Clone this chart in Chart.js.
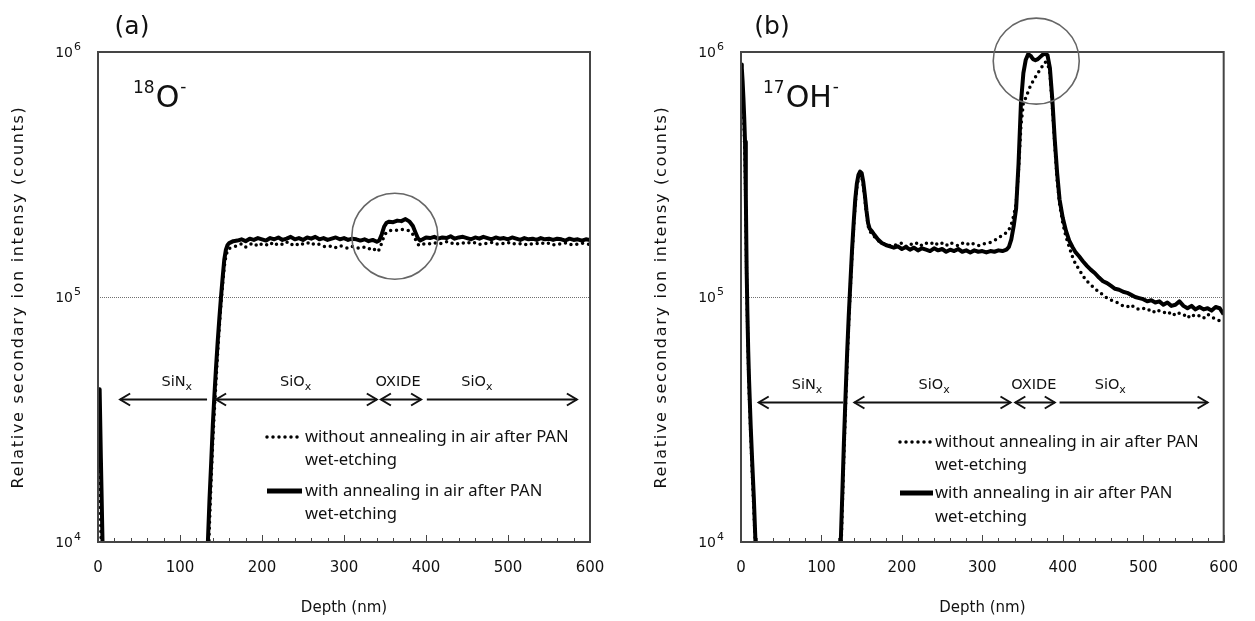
<!DOCTYPE html>
<html>
<head>
<meta charset="utf-8">
<script src="https://cdn.jsdelivr.net/npm/chart.js@4.4.0/dist/chart.umd.min.js"></script>
<style>
  html, body { margin: 0; padding: 0; background: #fff; }
  #wrap { position: relative; width: 1255px; height: 621px; overflow: hidden; }
  canvas { position: absolute; top: 0; }
  #chartA { left: 0; }
  #chartB { left: 643px; }
</style>
</head>
<body>
<div id="wrap">
  <canvas id="chartA" width="628" height="621"></canvas>
  <canvas id="chartB" width="612" height="621"></canvas>
</div>
<script>
// ---- (a) 18O- : profundidad (nm) y cuentas ----
var depthA = [0, 1, 2, 3.5, 5.5, 7, 9, 128, 131, 133, 134, 136, 138, 140, 142, 144, 146, 148, 150, 152, 154, 156, 158, 160,
  165, 170, 175, 180, 185, 190, 195, 200, 205, 210, 215, 220, 225, 230, 235, 240, 245, 250, 255, 260, 265, 270, 275, 280,
  285, 290, 295, 300, 305, 310, 315, 320, 325, 330, 335, 340,
  343, 346, 349, 352, 355, 360, 365, 370, 375, 380, 384, 387, 390, 393, 396,
  400, 405, 410, 415, 420, 425, 430, 435, 440, 445, 450, 455, 460, 465, 470, 475, 480, 485, 490, 495, 500,
  505, 510, 515, 520, 525, 530, 535, 540, 545, 550, 555, 560, 565, 570, 575, 580, 585, 590, 595, 600];
var withA = [4.0e4, 4.2e4, 4.2e4, 2.2e4, 1.0e4, 5e3, 1e3, 1e3, 4e3, 8e3, 1.0e4, 1.5e4, 2.1e4, 3.0e4, 4.0e4, 5.2e4, 6.6e4, 8.2e4, 1.0e5, 1.2e5, 1.42e5, 1.56e5, 1.63e5, 1.66e5,
  1.69e5, 1.70e5, 1.72e5, 1.69e5, 1.73e5, 1.71e5, 1.74e5, 1.72e5, 1.70e5, 1.74e5, 1.72e5, 1.75e5, 1.71e5, 1.73e5, 1.76e5, 1.72e5, 1.74e5, 1.71e5, 1.75e5, 1.73e5, 1.76e5, 1.72e5, 1.74e5, 1.71e5,
  1.73e5, 1.75e5, 1.72e5, 1.74e5, 1.71e5, 1.73e5, 1.72e5, 1.70e5, 1.72e5, 1.69e5, 1.71e5, 1.68e5,
  1.70e5, 1.80e5, 1.94e5, 2.01e5, 2.03e5, 2.02e5, 2.05e5, 2.04e5, 2.08e5, 2.03e5, 1.95e5, 1.84e5, 1.74e5, 1.70e5, 1.72e5,
  1.75e5, 1.74e5, 1.76e5, 1.73e5, 1.75e5, 1.74e5, 1.77e5, 1.73e5, 1.75e5, 1.76e5, 1.74e5, 1.72e5, 1.75e5, 1.73e5, 1.76e5, 1.74e5, 1.72e5, 1.75e5, 1.73e5, 1.74e5, 1.72e5,
  1.75e5, 1.73e5, 1.71e5, 1.74e5, 1.72e5, 1.73e5, 1.71e5, 1.74e5, 1.72e5, 1.73e5, 1.71e5, 1.73e5, 1.72e5, 1.70e5, 1.73e5, 1.71e5, 1.72e5, 1.70e5, 1.72e5, 1.71e5];
var withoutA = [2.0e4, 2.4e4, 2.1e4, 1.1e4, 6e3, 3e3, 1e3, 1e3, 3e3, 6e3, 7.5e3, 1.2e4, 1.8e4, 2.6e4, 3.5e4, 4.6e4, 6.0e4, 7.6e4, 9.4e4, 1.13e5, 1.33e5, 1.47e5, 1.55e5, 1.58e5,
  1.60e5, 1.62e5, 1.65e5, 1.60e5, 1.64e5, 1.66e5, 1.61e5, 1.65e5, 1.63e5, 1.67e5, 1.62e5, 1.66e5, 1.64e5, 1.68e5, 1.63e5, 1.66e5, 1.62e5, 1.65e5, 1.67e5, 1.63e5, 1.66e5, 1.64e5, 1.61e5, 1.60e5,
  1.62e5, 1.59e5, 1.62e5, 1.60e5, 1.58e5, 1.61e5, 1.59e5, 1.58e5, 1.60e5, 1.57e5, 1.59e5, 1.53e5,
  1.56e5, 1.66e5, 1.78e5, 1.84e5, 1.86e5, 1.88e5, 1.87e5, 1.89e5, 1.88e5, 1.86e5, 1.80e5, 1.72e5, 1.64e5, 1.62e5, 1.64e5,
  1.66e5, 1.65e5, 1.67e5, 1.64e5, 1.66e5, 1.68e5, 1.65e5, 1.67e5, 1.64e5, 1.66e5, 1.68e5, 1.65e5, 1.67e5, 1.64e5, 1.66e5, 1.65e5, 1.67e5, 1.64e5, 1.66e5, 1.65e5, 1.67e5,
  1.64e5, 1.66e5, 1.65e5, 1.63e5, 1.66e5, 1.64e5, 1.65e5, 1.67e5, 1.64e5, 1.66e5, 1.63e5, 1.65e5, 1.64e5, 1.66e5, 1.63e5, 1.65e5, 1.64e5, 1.66e5, 1.65e5, 1.64e5];

// ---- (b) 17OH- ----
var depthB = [0, 1, 2, 3, 4, 5, 6, 7, 8, 9, 10, 12, 14, 16, 18, 20, 23, 30, 118, 121, 123, 124,
  126, 128, 130, 132, 134, 136, 138, 140, 142, 144, 146, 148, 150, 152, 154, 156, 158, 160, 163, 166, 170,
  175, 180, 185, 190, 195, 200, 205, 210, 215, 220, 225, 230, 235, 240, 245, 250, 255, 260, 265, 270, 275, 280,
  285, 290, 295, 300, 305, 310, 315, 320, 325, 330,
  333, 336, 339, 342, 345, 348, 351, 354, 357, 360, 363, 366, 369, 372, 375, 378, 381, 384, 387, 390, 393, 396,
  400, 404, 408, 412, 416, 420,
  425, 430, 435, 440, 445, 450, 455, 460, 465, 470, 475, 480, 485, 490, 495, 500, 505, 510,
  515, 520, 525, 530, 535, 540, 545, 550, 555, 560, 565, 570, 575, 580, 585, 590, 595, 600];
var withB = [8.9e5, 8.6e5, 7.6e5, 6.5e5, 5.4e5, 4.3e5, 2.6e5, 1.3e5, 8.5e4, 6.0e4, 4.6e4, 3.0e4, 2.1e4, 1.5e4, 1.0e4, 6e3, 2e3, 5e2, 5e2, 3e3, 7e3, 1.0e4,
  1.6e4, 2.6e4, 4.0e4, 6.0e4, 8.5e4, 1.15e5, 1.55e5, 2.0e5, 2.5e5, 2.9e5, 3.15e5, 3.25e5, 3.2e5, 2.95e5, 2.6e5, 2.25e5, 2.0e5, 1.9e5, 1.85e5, 1.79e5, 1.72e5,
  1.66e5, 1.63e5, 1.61e5, 1.59e5, 1.61e5, 1.57e5, 1.60e5, 1.56e5, 1.59e5, 1.55e5, 1.58e5, 1.56e5, 1.54e5, 1.58e5, 1.55e5, 1.57e5, 1.53e5, 1.56e5, 1.54e5, 1.57e5, 1.53e5, 1.55e5,
  1.52e5, 1.55e5, 1.53e5, 1.54e5, 1.52e5, 1.54e5, 1.53e5, 1.55e5, 1.54e5, 1.56e5,
  1.60e5, 1.72e5, 1.95e5, 2.3e5, 3.5e5, 6.2e5, 8.2e5, 9.3e5, 9.8e5, 9.65e5, 9.35e5, 9.25e5, 9.35e5, 9.55e5, 9.75e5, 9.85e5, 9.7e5, 8.6e5, 6.4e5, 4.4e5, 3.2e5, 2.5e5,
  2.1e5, 1.86e5, 1.7e5, 1.6e5, 1.52e5, 1.47e5,
  1.40e5, 1.34e5, 1.29e5, 1.25e5, 1.20e5, 1.16e5, 1.14e5, 1.11e5, 1.08e5, 1.07e5, 1.05e5, 1.04e5, 1.02e5, 1.00e5, 0.99e5, 0.98e5, 0.96e5, 0.97e5,
  0.95e5, 0.96e5, 0.93e5, 0.95e5, 0.92e5, 0.93e5, 0.96e5, 0.92e5, 0.90e5, 0.92e5, 0.89e5, 0.91e5, 0.89e5, 0.90e5, 0.88e5, 0.91e5, 0.90e5, 0.85e5];
var withoutB = [8.0e5, 7.6e5, 6.8e5, 5.8e5, 4.7e5, 3.6e5, 2.2e5, 1.2e5, 8.0e4, 5.6e4, 4.2e4, 2.8e4, 1.9e4, 1.35e4, 9.5e3, 5e3, 1.5e3, 5e2, 5e2, 2.6e3, 6e3, 8.5e3,
  1.4e4, 2.3e4, 3.6e4, 5.5e4, 8.0e4, 1.1e5, 1.48e5, 1.92e5, 2.4e5, 2.8e5, 3.05e5, 3.15e5, 3.1e5, 2.85e5, 2.5e5, 2.18e5, 1.95e5, 1.86e5, 1.8e5, 1.76e5, 1.7e5,
  1.66e5, 1.64e5, 1.62e5, 1.62e5, 1.64e5, 1.66e5, 1.61e5, 1.65e5, 1.63e5, 1.67e5, 1.62e5, 1.66e5, 1.64e5, 1.68e5, 1.63e5, 1.66e5, 1.62e5, 1.67e5, 1.64e5, 1.62e5, 1.66e5, 1.63e5,
  1.67e5, 1.64e5, 1.62e5, 1.65e5, 1.65e5, 1.67e5, 1.70e5, 1.74e5, 1.79e5, 1.83e5,
  1.88e5, 1.98e5, 2.15e5, 2.4e5, 3.3e5, 5.0e5, 6.2e5, 6.5e5, 6.9e5, 7.3e5, 7.6e5, 7.9e5, 8.2e5, 8.5e5, 8.8e5, 9.1e5, 9.0e5, 8.2e5, 6.0e5, 4.2e5, 3.0e5, 2.4e5,
  2.0e5, 1.76e5, 1.6e5, 1.46e5, 1.36e5, 1.30e5,
  1.22e5, 1.16e5, 1.12e5, 1.08e5, 1.05e5, 1.02e5, 0.99e5, 0.97e5, 0.96e5, 0.94e5, 0.92e5, 0.91e5, 0.93e5, 0.90e5, 0.89e5, 0.90e5, 0.88e5, 0.89e5,
  0.86e5, 0.88e5, 0.87e5, 0.85e5, 0.87e5, 0.84e5, 0.86e5, 0.85e5, 0.82e5, 0.85e5, 0.83e5, 0.84e5, 0.82e5, 0.85e5, 0.83e5, 0.81e5, 0.80e5, 0.78e5];

// ejes y textos
var yTickValues = [1e4, 1e5, 1e6];
var yTickExps = ["4", "5", "6"];
var xLabel = "Depth (nm)";
var yLabel = "Relative secondary ion intensy (counts)";
var legendWithout = ["without annealing in air after PAN", "wet-etching"];
var legendWith = ["with annealing in air after PAN", "wet-etching"];
var layerNames = [["SiN", "x"], ["SiO", "x"], ["OXIDE", ""], ["SiO", "x"]];

var FONT = '"DejaVu Sans", Verdana, sans-serif';
var INK = "#111";

function arrowHead(ctx, x, y, dir) {
  ctx.beginPath();
  ctx.moveTo(x - dir * 10, y - 6);
  ctx.lineTo(x, y);
  ctx.lineTo(x - dir * 10, y + 6);
  ctx.stroke();
}

// Plugin que dibuja marco, rótulos, flechas, leyenda y círculo
var decoPlugin = {
  id: "deco",
  beforeDatasetsDraw: function (chart) {
    var ctx = chart.ctx, ca = chart.chartArea;
    var yy = Math.round(chart.scales.y.getPixelForValue(1e5)) + 0.5;
    ctx.save();
    ctx.strokeStyle = "#707070";
    ctx.lineWidth = 1;
    ctx.setLineDash([1, 1]);
    ctx.beginPath();
    ctx.moveTo(ca.left, yy);
    ctx.lineTo(ca.right, yy);
    ctx.stroke();
    ctx.restore();
  },
  afterDraw: function (chart, args, o) {
    var ctx = chart.ctx, ca = chart.chartArea;
    var x = chart.scales.x, y = chart.scales.y;
    ctx.save();

    // marco
    ctx.strokeStyle = "#454545";
    ctx.lineWidth = 2;
    ctx.strokeRect(ca.left, ca.top, ca.right - ca.left, ca.bottom - ca.top);

    // marcas del eje x (hacia dentro)
    ctx.lineWidth = 1;
    ctx.beginPath();
    for (var v = 0; v <= 600; v += 20) {
      var px = Math.round(x.getPixelForValue(v)) + 0.5;
      ctx.moveTo(px, ca.bottom);
      ctx.lineTo(px, ca.bottom - (v % 100 === 0 ? 7 : 4));
    }
    ctx.stroke();

    // etiquetas del eje y: 10^n
    ctx.fillStyle = INK;
    ctx.textBaseline = "middle";
    yTickValues.forEach(function (t, i) {
      var py = y.getPixelForValue(t);
      ctx.font = "14px " + FONT;
      ctx.textAlign = "right";
      ctx.fillText("10", ca.left - 25, py + 1);
      ctx.font = "11px " + FONT;
      ctx.textAlign = "left";
      ctx.fillText(yTickExps[i], ca.left - 24, py - 5);
    });

    // títulos de ejes
    ctx.textAlign = "center";
    ctx.font = "15px " + FONT;
    ctx.fillText(xLabel, (ca.left + ca.right) / 2, 608);
    ctx.save();
    ctx.translate(ca.left - 79, (ca.top + ca.bottom) / 2);
    ctx.rotate(-Math.PI / 2);
    ctx.font = "16px " + FONT;
    ctx.letterSpacing = "1.7px";
    ctx.fillText(yLabel, 0, 0);
    ctx.restore();

    // letra del panel
    ctx.font = "25px " + FONT;
    ctx.textBaseline = "alphabetic";
    ctx.fillText(o.letter, ca.left + o.letterDx, ca.top - 18);

    // especie
    ctx.textAlign = "left";
    var sx = ca.left + o.speciesDx;
    ctx.font = "17px " + FONT;
    ctx.fillText(o.mass, sx, ca.top + 41);
    sx += ctx.measureText(o.mass).width + 1;
    ctx.font = "30px " + FONT;
    ctx.fillText(o.species, sx, ca.top + 55);
    sx += ctx.measureText(o.species).width + 1;
    ctx.font = "17px " + FONT;
    ctx.fillText("-", sx, ca.top + 40);

    // flechas de capas
    var ay = Math.round(y.getPixelForValue(o.arrowY)) + 0.5;
    ctx.strokeStyle = "#111";
    ctx.lineWidth = 2;
    o.arrows.forEach(function (a) {
      var x1 = x.getPixelForValue(a[0]), x2 = x.getPixelForValue(a[1]);
      ctx.beginPath();
      ctx.moveTo(x1, ay);
      ctx.lineTo(x2, ay);
      ctx.stroke();
      if (a[2]) arrowHead(ctx, x1, ay, -1);
      if (a[3]) arrowHead(ctx, x2, ay, 1);
    });
    layerNames.forEach(function (n, i) {
      ctx.font = "14.5px " + FONT;
      var w1 = ctx.measureText(n[0]).width;
      ctx.font = "11px " + FONT;
      var w2 = ctx.measureText(n[1]).width;
      var cx = x.getPixelForValue(o.labelX[i]);
      var lx = cx - (w1 + w2) / 2;
      ctx.font = "14.5px " + FONT;
      ctx.fillText(n[0], lx, ay - 14);
      ctx.font = "11px " + FONT;
      ctx.fillText(n[1], lx + w1, ay - 10);
    });

    // leyenda
    var lg = o.legend;
    ctx.strokeStyle = "#000";
    ctx.lineCap = "round";
    ctx.lineWidth = 3.5;
    ctx.setLineDash([0, 6]);
    ctx.beginPath();
    ctx.moveTo(ca.left + lg.x0, ca.top + lg.rows[0]);
    ctx.lineTo(ca.left + lg.x1, ca.top + lg.rows[0]);
    ctx.stroke();
    ctx.setLineDash([]);
    ctx.lineCap = "butt";
    ctx.lineWidth = 5;
    ctx.beginPath();
    ctx.moveTo(ca.left + lg.x0, ca.top + lg.rows[2]);
    ctx.lineTo(ca.left + lg.x1, ca.top + lg.rows[2]);
    ctx.stroke();
    ctx.font = '16.6px "Noto Sans", sans-serif';
    ctx.textBaseline = "middle";
    var lines = legendWithout.concat(legendWith);
    lines.forEach(function (t, i) {
      ctx.fillText(t, ca.left + lg.tx, ca.top + lg.rows[i]);
    });

    // círculo de la zona del óxido
    ctx.strokeStyle = "#666";
    ctx.lineWidth = 1.6;
    ctx.beginPath();
    ctx.arc(x.getPixelForValue(o.circle[0]), y.getPixelForValue(o.circle[1]), 43, 0, Math.PI * 2);
    ctx.stroke();

    ctx.restore();
  }
};

function toPoints(depth, vals) {
  return depth.map(function (d, i) { return { x: d, y: vals[i] }; });
}

function makeChart(id, depth, withV, withoutV, padRight, deco) {
  return new Chart(document.getElementById(id), {
    type: "line",
    data: {
      datasets: [
        {
          label: legendWithout.join(" "),
          data: toPoints(depth, withoutV),
          borderColor: "#000",
          borderWidth: 3.5,
          borderDash: [0, 6],
          borderCapStyle: "round",
          pointRadius: 0,
          tension: 0,
        },
        {
          label: legendWith.join(" "),
          data: toPoints(depth, withV),
          borderColor: "#000",
          borderWidth: 4,
          borderJoinStyle: "round",
          pointRadius: 0,
          tension: 0,
        },
      ],
    },
    options: {
      responsive: false,
      animation: false,
      devicePixelRatio: 1,
      layout: { padding: { top: 52, right: padRight, left: 0, bottom: 0 } },
      plugins: { legend: { display: false }, tooltip: { enabled: false }, deco: deco },
      scales: {
        x: {
          type: "linear",
          min: 0,
          max: 600,
          grid: { display: false, drawTicks: false },
          border: { display: false },
          ticks: { stepSize: 100, maxRotation: 0, padding: 17, color: INK, font: { family: FONT, size: 15 } },
          afterFit: function (s) { s.height = 79; },
        },
        y: {
          type: "logarithmic",
          min: 1e4,
          max: 1e6,
          grid: { display: false },
          border: { display: false },
          ticks: { display: false },
          afterFit: function (s) { s.width = 98; },
        },
      },
    },
    plugins: [decoPlugin],
  });
}

makeChart("chartA", depthA, withA, withoutA, 38, {
  letter: "(a)", letterDx: 34, mass: "18", species: "O", speciesDx: 35,
  arrowY: 3.84e4,
  arrows: [[27, 133, true, false], [144, 340, true, true], [345, 394, true, true], [401, 584, false, true]],
  labelX: [96, 241, 366, 462],
  legend: { x0: 169, x1: 204, tx: 207, rows: [385, 408, 439, 462] },
  circle: [362, 1.77e5],
});

makeChart("chartB", depthB, withB, withoutB, 22, {
  letter: "(b)", letterDx: 31, mass: "17", species: "OH", speciesDx: 22,
  arrowY: 3.73e4,
  arrows: [[22, 127, true, false], [141, 335, true, true], [341, 390, true, true], [396, 580, false, true]],
  labelX: [82, 240, 364, 459],
  legend: { x0: 159, x1: 192, tx: 194, rows: [390, 413, 441, 465] },
  circle: [367, 9.18e5],
});
</script>
</body>
</html>
